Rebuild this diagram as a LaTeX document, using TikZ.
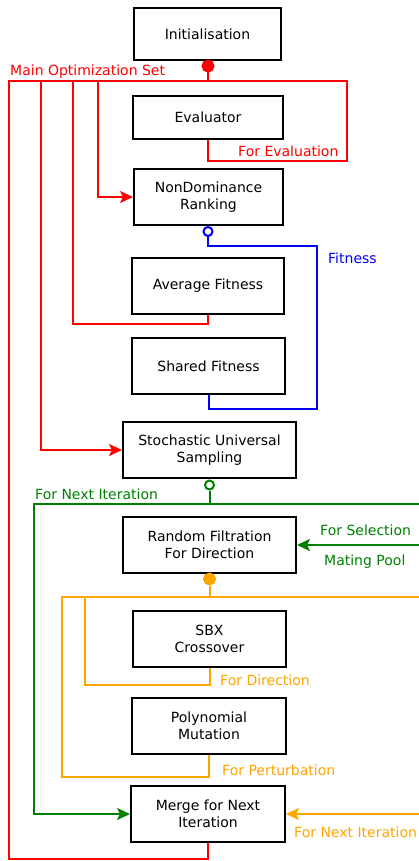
\documentclass[tikz,border=0pt]{standalone}
\usepackage{fontspec}
\setmainfont{DejaVu Sans}
\usetikzlibrary{arrows.meta}
\definecolor{cred}{HTML}{FF0000}
\definecolor{cblue}{HTML}{0000FF}
\definecolor{cgreen}{HTML}{008000}
\definecolor{corange}{HTML}{FFA500}
\begin{document}
\begin{tikzpicture}[x=1pt,y=-1pt,
  box/.style={draw=black,line width=2pt,fill=white,align=center,inner sep=0pt,
    font=\fontsize{14}{17}\selectfont},
  conn/.style={line width=2pt,line cap=butt,line join=miter},
  arr/.style={-{Stealth[length=13pt,width=12pt,inset=3pt]}},
  rarr/.style={{Stealth[length=13pt,width=12pt,inset=3pt]}-},
  barr/.style={{Stealth[length=13pt,width=12pt,inset=3pt]}-{Stealth[length=13pt,width=12pt,inset=3pt]}},
  lbl/.style={anchor=west,inner sep=0pt,font=\fontsize{14}{17}\selectfont},
  dotf/.style={circle,minimum size=10pt,inner sep=0pt,line width=2pt,draw=#1,fill=#1},
  doto/.style={circle,minimum size=9pt,inner sep=0pt,line width=2pt,draw=#1,fill=white}]
\useasboundingbox (0,0) rectangle (419,861);
\fill[white] (0,0) rectangle (419,861);

% boxes
\node[box,minimum width=147pt,minimum height=52pt] (init) at (207.5,34) {Initialisation};
\node[box,minimum width=150pt,minimum height=43pt] (eval) at (208,117.5) {Evaluator};
\node[box,minimum width=149pt,minimum height=56pt] (ndr) at (208.5,197) {NonDominance\\Ranking};
\node[box,minimum width=152pt,minimum height=56pt] (avg) at (208,286) {Average Fitness};
\node[box,minimum width=153pt,minimum height=56pt] (shared) at (208.5,366) {Shared Fitness};
\node[box,minimum width=173pt,minimum height=56pt] (sus) at (209.5,450) {Stochastic Universal\\Sampling};
\node[box,minimum width=173pt,minimum height=56pt] (rff) at (209.5,545) {Random Filtration\\For Direction};
\node[box,minimum width=153pt,minimum height=56pt] (sbx) at (209.5,639) {SBX\\Crossover};
\node[box,minimum width=154pt,minimum height=56pt] (poly) at (209,726) {Polynomial\\Mutation};
\node[box,minimum width=154pt,minimum height=56pt] (merge) at (208,814) {Merge for Next\\Iteration};

% markers
\node[dotf=cred,minimum size=11pt] (idot) at (208,66) {};
\node[doto=cblue] (bdot) at (208,231.5) {};
\node[doto=cgreen] (gdot) at (209.5,485) {};
\node[dotf=corange,minimum size=11pt] (odot) at (209.5,579) {};

% junction coordinates
\coordinate (rj) at (208,81);
\coordinate (rL) at (9,81);
\coordinate (rR) at (347,81);
\coordinate (r1) at (98,81);
\coordinate (r2) at (73,81);
\coordinate (r3) at (41,81);
\coordinate (rEb) at (347,161);
\coordinate (rAb) at (73,324);
\coordinate (rMb) at (9,859);

\coordinate (bj) at (208,246);
\coordinate (bR) at (317,246);
\coordinate (bRb) at (317,409);

\coordinate (gj) at (209.5,504);
\coordinate (gL) at (34,504);
\coordinate (gR) at (423,504);
\coordinate (gR2) at (423,545);

\coordinate (oj) at (209.5,597);
\coordinate (oL) at (62,597);
\coordinate (oR) at (423,597);
\coordinate (oR2) at (423,814);
\coordinate (o1) at (85,597);
\coordinate (o1b) at (85,685);
\coordinate (oLb) at (62,777);

% red connectors
\begin{scope}[conn,draw=cred]
\draw (idot.south) -- (rj);
\draw (eval.south) |- (rEb) -- (rR) -- (rL) -- (rMb) -| (merge.south);
\draw[arr,cred] (r1) |- (ndr.west);
\draw (r2) -- (rAb) -| (avg.south);
\draw[arr,cred] (r3) |- (sus.west);
\end{scope}

% blue connectors
\draw[conn,cblue] (bdot.south) -- (bj) -- (bR) -- (bRb) -| (shared.south);

% green connectors
\draw[conn,cgreen] (gdot.south) -- (gj);
\draw[conn,cgreen,barr] (rff.east) -- (gR2) -- (gR) -- (gL) |- (merge.west);

% orange connectors
\draw[conn,corange] (odot.south) -- (oj);
\draw[conn,corange,rarr] (merge.east) -- (oR2) -- (oR) -- (oL) -- (oLb) -| (poly.south);
\draw[conn,corange] (o1) -- (o1b) -| (sbx.south);

% labels
\node[lbl,text=cred] (lmain) at (10,72) {Main Optimization Set};
\node[lbl,text=cred] (leval) at (238,151) {For Evaluation};
\node[lbl,text=cblue] (lfit) at (328,258) {Fitness};
\node[lbl,text=cgreen] (lnext) at (35,494) {For Next Iteration};
\node[lbl,text=cgreen] (lsel) at (320,530) {For Selection};
\node[lbl,text=cgreen] (lmat) at (324,562) {Mating Pool};
\node[lbl,text=corange] (ldir) at (220,680) {For Direction};
\node[lbl,text=corange] (lpert) at (222,770) {For Perturbation};
\node[lbl,text=corange] (lnext2) at (294,832) {For Next Iteration};
\end{tikzpicture}
\end{document}
